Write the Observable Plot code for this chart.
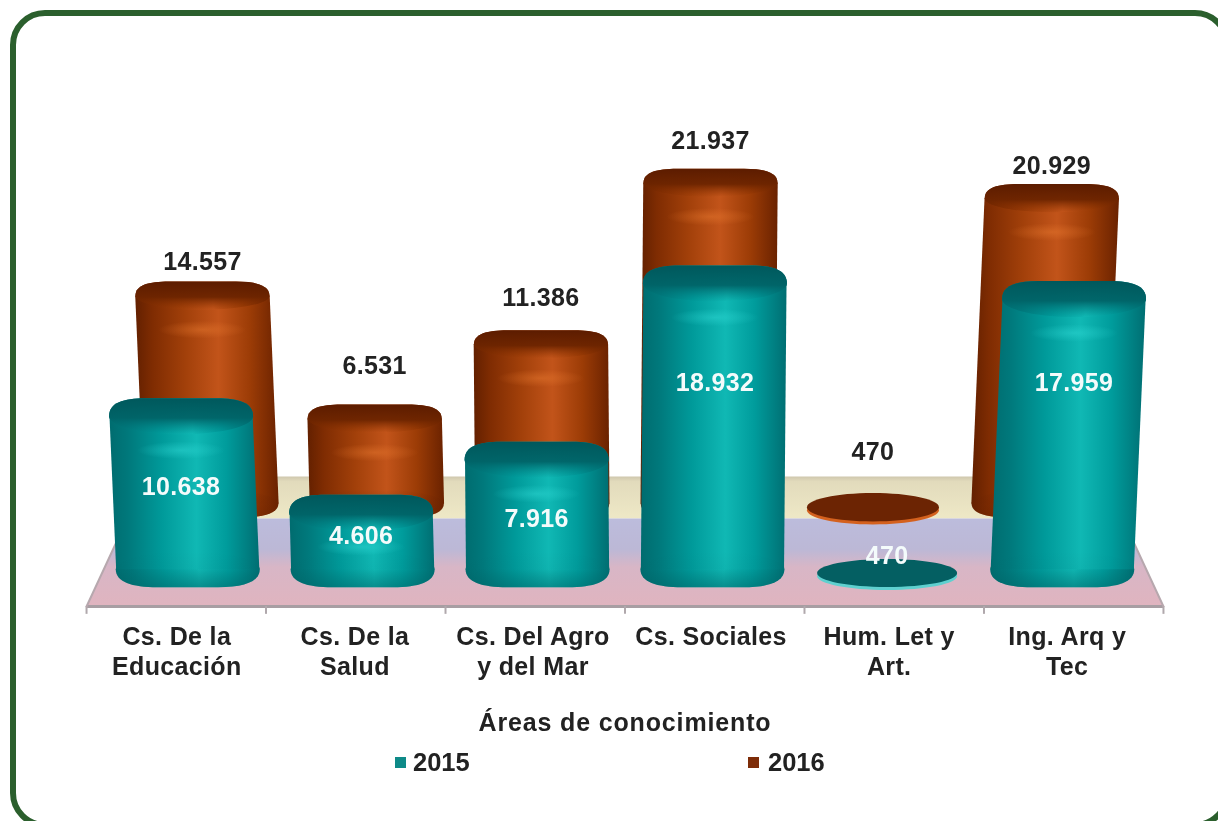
<!DOCTYPE html>
<html lang="es">
<head>
<meta charset="utf-8">
<script src="https://cdn.jsdelivr.net/npm/d3@7"></script>
<script src="https://cdn.jsdelivr.net/npm/@observablehq/plot@0.6"></script>
<style>
  html,body{margin:0;padding:0;background:#fff;}
  #page{position:relative;width:1218px;height:821px;overflow:hidden;background:#fff;filter:blur(0.6px);
        font-family:"Liberation Sans",Arial,sans-serif;}
  #page svg{position:absolute;left:0;top:0;}
  #page svg text{letter-spacing:.35px;}
  #frame{position:absolute;left:10px;top:10px;width:1208px;height:806px;border:6px solid #2b5f2d;border-radius:35px;box-sizing:content-box;}
  .title{position:absolute;left:325px;width:600px;top:708px;text-align:center;font-weight:700;font-size:25px;letter-spacing:.85px;color:#222;}
  .leg{position:absolute;top:746px;font-weight:700;font-size:25.5px;color:#222;line-height:32px;}
  .sw{position:absolute;top:757px;width:11px;height:11px;}
</style>
</head>
<body>
<div id="page">
  <div id="frame"></div>
  <div id="chart"></div>
  <div class="title">Áreas de conocimiento</div>
  <div class="sw" style="left:395px;background:#0e8a88"></div>
  <div class="leg" style="left:413px">2015</div>
  <div class="sw" style="left:748px;background:#7d2c08"></div>
  <div class="leg" style="left:768px">2016</div>
</div>
<script>
// ---- data ----
const categories = ["Cs. De la\nEducación", "Cs. De la\nSalud", "Cs. Del Agro\ny del Mar", "Cs. Sociales", "Hum. Let y\nArt.", "Ing. Arq y\nTec"];
const values2015 = [10638, 4606, 7916, 18932, 470, 17959];
const values2016 = [14557, 6531, 11386, 21937, 470, 20929];
const labels2015 = ["10.638", "4.606", "7.916", "18.932", "470", "17.959"];
const labels2016 = ["14.557", "6.531", "11.386", "21.937", "470", "20.929"];

// ---- faux-3D projection, in scale units ----
const mid = 2.5, lean = 1.6e-6;
const xAt = (i, v, f) => mid + (i - mid) * f * (1 + v * lean);
const floorFront = -1656, floorBack = 3949, wallTop = 6624;
const labelLevels2015 = [5924, 2866, 3949, 12611, 1592, 12611];
const labelLevels2016 = [20255, 13631, 17962, 27962, 8153, 26433];

// shapes: a cap with rounded shoulders on top, and its mirror for the foot
const capSymbol = ratio => ({draw(c, size) {
  const a = Math.sqrt(size / Math.PI), b = a * ratio;
  c.moveTo(-a, 0);
  c.bezierCurveTo(-a, -b * .75, -a * .8, -b, -a * .5, -b);
  c.lineTo(a * .5, -b);
  c.bezierCurveTo(a * .8, -b, a, -b * .75, a, 0);
  c.bezierCurveTo(a, b * .55, a * .55, b, 0, b);
  c.bezierCurveTo(-a * .55, b, -a, b * .55, -a, 0);
  c.closePath();
}});
const footSymbol = ratio => ({draw(c, size) {
  const a = Math.sqrt(size / Math.PI), b = a * ratio;
  c.moveTo(-a, 0);
  c.bezierCurveTo(-a, -b * .55, -a * .55, -b, 0, -b);
  c.bezierCurveTo(a * .55, -b, a, -b * .55, a, 0);
  c.bezierCurveTo(a, b * .7, a * .78, b, a * .42, b);
  c.lineTo(-a * .42, b);
  c.bezierCurveTo(-a * .78, b, -a, b * .7, -a, 0);
  c.closePath();
}});
const ellipseSymbol = ratio => ({draw(c, size) {
  const a = Math.sqrt(size / Math.PI), b = a * ratio, k = .5523;
  c.moveTo(-a, 0);
  c.bezierCurveTo(-a, -b * k, -a * k, -b, 0, -b);
  c.bezierCurveTo(a * k, -b, a, -b * k, a, 0);
  c.bezierCurveTo(a, b * k, a * k, b, 0, b);
  c.bezierCurveTo(-a * k, b, -a, b * k, -a, 0);
  c.closePath();
}});

function cylinders(s) {
  const Y = v => v * s.sy + s.lift;
  const rows = s.values.map((v, i) => ({i, v, tall: v > s.base}));
  const tall = rows.filter(d => d.tall), flat = rows.filter(d => !d.tall);
  const poly = tall.flatMap(d => [
    {i: d.i, x: xAt(d.i, s.base, s.f) - s.hw, y: Y(s.base)},
    {i: d.i, x: xAt(d.i, s.base, s.f) + s.hw, y: Y(s.base)},
    {i: d.i, x: xAt(d.i, d.v, s.f) + s.hw, y: Y(d.v)},
    {i: d.i, x: xAt(d.i, d.v, s.f) - s.hw, y: Y(d.v)}
  ]);
  const xTop = d => xAt(d.i, d.v, s.f), yTop = d => Y(d.v);
  const xFoot = d => xAt(d.i, s.base, s.f), yFoot = () => Y(s.base);
  const cap = capSymbol(s.ratio), foot = footSymbol(s.ratio), ell = ellipseSymbol(s.flatRatio);
  return [
    // pale lip under the foot
    Plot.dot(tall, {x: xFoot, y: yFoot, r: s.r * .7, dy: 3, symbol: foot, fill: s.lip}),
    Plot.dot(flat, {x: xTop, y: yTop, r: s.flatR, dy: s.flatDy + 3, symbol: ell, fill: s.lip}),
    Plot.dot(tall, {x: xFoot, y: yFoot, r: s.r, symbol: foot, fill: `url(#${s.id}-body)`}),
    Plot.line(poly, {x: "x", y: "y", z: "i", fill: `url(#${s.id}-body)`, stroke: null}),
    Plot.dot(tall, {x: xFoot, y: yFoot, r: s.r, symbol: foot, fill: `url(#${s.id}-foot)`}),
    Plot.dot(tall, {x: xTop, y: yTop, r: s.r, symbol: cap, fill: `url(#${s.id}-body)`}),
    Plot.dot(tall, {x: xTop, y: yTop, r: s.r, symbol: cap, fill: `url(#${s.id}-cap)`}),
    Plot.dot(tall, {x: xTop, y: yTop, r: 44, dy: 34, symbol: ellipseSymbol(.2), fill: `url(#${s.id}-glow)`}),
    Plot.dot(flat, {x: xTop, y: yTop, r: s.flatR, dy: s.flatDy, symbol: ell, fill: s.dark})
  ];
}

const series2016 = {id: "b", values: values2016, f: .946, sy: .975, lift: 3949, base: 980, hw: .385, r: 67, ratio: .21,
                    flatR: 66, flatRatio: .215, flatDy: -4, dark: "#6c2403", lip: "#d4611e"};
const series2015 = {id: "t", values: values2015, f: 1, sy: 1.02, lift: -390, base: 1080, hw: .41, r: 72, ratio: .25,
                    flatR: 70, flatRatio: .2, flatDy: -6, dark: "#045f62", lip: "#5fd0cf"};

function stopList(stops) {
  return stops.map(([o, c, a]) => `<stop offset="${o}" stop-color="${c}" stop-opacity="${a ?? 1}"/>`).join("");
}
function defsMark() {
  const g = document.createElementNS("http://www.w3.org/2000/svg", "defs");
  g.innerHTML = `
  <linearGradient id="t-body">${stopList([[0,"#006c6f"],[.12,"#00787b"],[.35,"#009a9a"],[.58,"#10b8b4"],[.78,"#009c9c"],[1,"#006e72"]])}</linearGradient>
  <linearGradient id="b-body">${stopList([[0,"#632000"],[.12,"#7f2c02"],[.35,"#a2400a"],[.58,"#c2541a"],[.8,"#9c3c06"],[1,"#6a2200"]])}</linearGradient>
  <linearGradient id="t-cap" x1="0" y1="0" x2="0" y2="1">${stopList([[0,"#00585c"],[.55,"#006367",.95],[1,"#007c80",0]])}</linearGradient>
  <linearGradient id="b-cap" x1="0" y1="0" x2="0" y2="1">${stopList([[0,"#5c1c00"],[.55,"#6c2400",.95],[1,"#8a3200",0]])}</linearGradient>
  <linearGradient id="t-foot" x1="0" y1="0" x2="0" y2="1">${stopList([[0,"#005f62",0],[.5,"#005f62",.05],[1,"#006466",.5]])}</linearGradient>
  <linearGradient id="b-foot" x1="0" y1="0" x2="0" y2="1">${stopList([[0,"#6a2200",0],[1,"#6a2200",.5]])}</linearGradient>
  <radialGradient id="t-glow">${stopList([[0,"#2fd8d4",.5],[1,"#2fd8d4",0]])}</radialGradient>
  <radialGradient id="b-glow">${stopList([[0,"#e6772e",.5],[1,"#e6772e",0]])}</radialGradient>
  <linearGradient id="floor" x1="0" y1="0" x2="0" y2="1">${stopList([[0,"#bcbcdc"],[.35,"#bcb8d6"],[.55,"#d8b6c6"],[1,"#e0b4bf"]])}</linearGradient>
  <linearGradient id="wall" x1="0" y1="0" x2="0" y2="1">${stopList([[0,"#cfc7ae"],[.12,"#e2dbbc"],[1,"#eee8c6"]])}</linearGradient>`;
  return g;
}

const floorPoly = [
  {x: mid - 3 * 1.028, y: floorFront}, {x: mid + 3 * 1.028, y: floorFront},
  {x: mid + 3 * .95, y: floorBack}, {x: mid - 3 * .95, y: floorBack}
];
const wallPoly = [
  {x: mid - 3 * .95, y: floorBack}, {x: mid + 3 * .95, y: floorBack},
  {x: mid + 3 * .95, y: wallTop}, {x: mid - 3 * .95, y: wallTop}
];
const tickAt = d3.range(7).map(k => mid + (k - 3) * 1.028);
const textStyle = {fontWeight: 700, fontSize: 25, fontFamily: '"Liberation Sans",Arial,sans-serif'};

const plot = Plot.plot({
  width: 1218, height: 821,
  margin: 0,
  style: {background: "transparent", overflow: "visible"},
  x: {domain: [0, 5], range: [188, 1061], axis: null},
  y: {domain: [0, 30000], range: [580, 109], axis: null},
  marks: [
    defsMark,
    Plot.line(wallPoly, {x: "x", y: "y", fill: "url(#wall)", stroke: null}),
    Plot.line(floorPoly, {x: "x", y: "y", fill: "url(#floor)", stroke: null}),
    Plot.ruleY([floorFront], {x1: tickAt[0], x2: tickAt[6], stroke: "#a89ea3", strokeWidth: 3}),
    Plot.ruleX(tickAt, {y1: floorFront, y2: floorFront - 500, stroke: "#b0a8ac", strokeWidth: 2}),
    Plot.line(floorPoly.slice(0, 1).concat(floorPoly.slice(3)), {x: "x", y: "y", stroke: "#b7a8ae", strokeWidth: 2}),
    Plot.line(floorPoly.slice(1, 3), {x: "x", y: "y", stroke: "#b7a8ae", strokeWidth: 2}),
    ...cylinders(series2016),
    Plot.text(labels2016, {
      x: (d, i) => xAt(i, values2016[i], series2016.f),
      y: (d, i) => labelLevels2016[i],
      text: d => d, fill: "#222", ...textStyle
    }),
    ...cylinders(series2015),
    Plot.text(labels2015, {
      x: (d, i) => xAt(i, values2015[i], series2015.f),
      y: (d, i) => labelLevels2015[i],
      text: d => d, fill: "#f4fbfb", ...textStyle
    }),
    Plot.text(categories, {
      x: (d, i) => mid + (i - mid) * 1.02,
      y: -2700,
      dx: -3, dy: 1,
      text: d => d, lineAnchor: "top", lineHeight: 1.2, fill: "#222", ...textStyle
    })
  ]
});
document.getElementById("chart").appendChild(plot);
</script>
</body>
</html>
